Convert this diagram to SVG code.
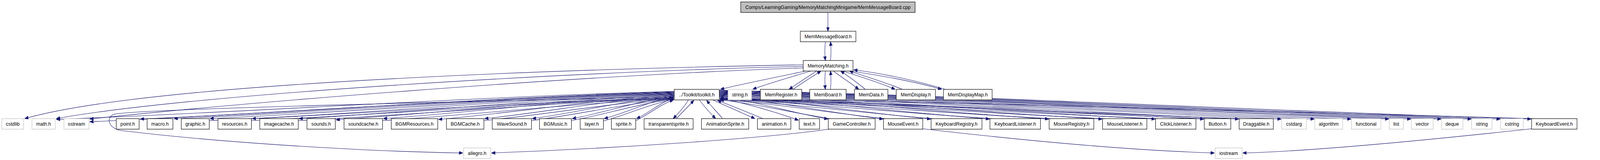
<svg xmlns="http://www.w3.org/2000/svg" width="4346" height="410" viewBox="0 0 4346 410">
<style>
.n rect{fill:#fff;stroke:#000;stroke-width:1.2}
.g rect{fill:#fff;stroke:#bfbfbf;stroke-width:1.2}
.r rect{fill:#bfbfbf;stroke:#000;stroke-width:1.2}
text{font-family:"Liberation Sans",Arial,sans-serif;font-size:13.3px;fill:#000;text-anchor:middle}
#edges path{fill:none;stroke:#191970;stroke-width:1.1;marker-end:url(#ah)}
</style>
<defs>
<marker id="ah" viewBox="0 0 10 8" refX="10" refY="4" markerWidth="11" markerHeight="8" markerUnits="userSpaceOnUse" orient="auto">
<path d="M0,0 L10,4 L0,8 z" fill="#191970" stroke="#191970"/>
</marker>
</defs>
<rect width="4346" height="410" fill="#fff"/>
<g id="diagram" transform="scale(0.93,1)">
<g id="edges">
<path d="M2279,32 L2279,80"/>
<path d="M2272,107 C2270,125 2270,140 2272,155"/>
<path d="M2286,155 C2288,140 2288,125 2286,107"/>
<path d="M2211,166 C1500,178 400,215 68,304"/>
<path d="M2211,170 C1500,186 500,245 155,304"/>
<path d="M2211,174 C1550,195 650,265 247,305"/>
<path d="M2218,182 C2100,205 2030,218 1983,229"/>
<path d="M2232,182 C2150,205 2100,218 2072,229"/>
<path d="M2248,182 C2225,196 2195,214 2172,229"/>
<path d="M2183,229 C2205,214 2237,196 2260,182"/>
<path d="M2272,182 C2270,200 2270,212 2272,229"/>
<path d="M2286,229 C2288,212 2288,200 2286,182"/>
<path d="M2294,182 C2320,200 2345,215 2364,229"/>
<path d="M2382,229 C2360,212 2335,195 2314,182"/>
<path d="M2320,182 C2380,200 2430,215 2464,229"/>
<path d="M2484,229 C2440,212 2380,195 2338,182"/>
<path d="M2340,182 C2450,197 2530,212 2592,229"/>
<path d="M2602,229 C2530,208 2430,188 2350,179"/>
<path d="M1856,234 C1295,248.4 665,288 155,306"/>
<path d="M1856,235 C1325,250.4 730,292.8 247,312"/>
<path d="M1856,236 C1371,249.8 827,287.8 386,305"/>
<path d="M1856,237 C1402,250.4 892,287.3 479,304"/>
<path d="M1856,238 C1434,251.2 961,287.5 578,304"/>
<path d="M1856,239 C1473,252 1043,287.8 694,304"/>
<path d="M1856,240 C1515,252.8 1133,288 823,304"/>
<path d="M1856,241 C1549,254.2 1204,290.5 925,307"/>
<path d="M1856,242 C1592,254.4 1295,288.5 1055,304"/>
<path d="M1856,243 C1642,255.6 1402,290.3 1207,306"/>
<path d="M1856,244 C1684,256 1491,289 1334,304"/>
<path d="M1856,245 C1727,256.8 1582,289.3 1465,304"/>
<path d="M1856,246 C1763,257.6 1659,289.5 1575,304"/>
<path d="M1856,247 C1792,258.4 1721,289.8 1663,304"/>
<path d="M1856,250 C1822,260.8 1783,290.5 1752,304"/>
<path d="M576,309 C959,294 1432,261.8 1854,250"/>
<path d="M692,309 C1041,294.5 1470,262.6 1854,251"/>
<path d="M821,309 C1131,294.8 1513,263.4 1854,252"/>
<path d="M1053,309 C1293,295 1590,264.2 1854,253"/>
<path d="M1332,309 C1489,295 1682,264.2 1854,253"/>
<path d="M1463,309 C1580,295.3 1725,265 1854,254"/>
<path d="M1573,309 C1657,295.3 1761,265 1854,254"/>
<path d="M1661,310 C1719,296.3 1790,266 1854,255"/>
<path d="M1750,309 C1781,295.8 1820,266.6 1854,256"/>
<path d="M1895,256 C1885,272 1868,290 1853,304"/>
<path d="M1862,304 C1878,288 1895,272 1910,257"/>
<path d="M1925,256 C1938,272 1955,290 1970,304"/>
<path d="M1989,304 C1975,288 1958,272 1945,257"/>
<path d="M1962,256 C2000,272 2045,290 2078,304"/>
<path d="M2100,304 C2060,288 2010,270 1975,257"/>
<path d="M1980,251 C2080,270 2150,292 2198,308"/>
<path d="M1980,248 C2079,259.4 2189,290.8 2279,305"/>
<path d="M1980,247 C2129,258.6 2296,290.5 2431,305"/>
<path d="M1980,246 C2172,257.8 2387,290.3 2562,305"/>
<path d="M1980,245 C2226,257 2501,290 2724,305"/>
<path d="M1980,244 C2279,256.2 2615,289.8 2887,305"/>
<path d="M1980,243 C2328,255.4 2718,289.5 3034,305"/>
<path d="M1980,242 C2376,254.6 2820,289.3 3180,305"/>
<path d="M1980,241 C2420,253.8 2914,289 3314,305"/>
<path d="M1980,240 C2452,253 2981,288.8 3410,305"/>
<path d="M1980,239 C2491,252.2 3063,288.5 3527,305"/>
<path d="M1980,238 C2521,251.4 3127,288.3 3618,305"/>
<path d="M1980,237 C2554,250.6 3197,288 3719,305"/>
<path d="M1980,236 C2588,249.8 3270,287.8 3823,305"/>
<path d="M1980,235 C2608,249 3313,287.5 3884,305"/>
<path d="M1980,234 C2636,248.2 3371,287.3 3967,305"/>
<path d="M1980,233 C2663,247.4 3429,287 4050,305"/>
<path d="M1980,232 C2690,246.6 3485,286.8 4130,305"/>
<path d="M1980,231 C2718,245.8 3545,286.5 4215,305"/>
<path d="M2286,304 C2194.5,292 2081.6,265.6 1982,256"/>
<path d="M2438,304 C2301,291.8 2132,264.8 1982,255"/>
<path d="M2569,304 C2393,291.8 2175,264.8 1982,255"/>
<path d="M2731,304 C2506,291.5 2228.5,264 1982,254"/>
<path d="M2894,304 C2620,291.5 2282,264 1982,254"/>
<path d="M3041,304 C2723,291.3 2331,263.2 1982,253"/>
<path d="M3187,304 C2825,291.3 2379,263.2 1982,253"/>
<path d="M3321,304 C2919,291 2423,262.4 1982,252"/>
<path d="M3417,304 C2986,291 2455,262.4 1982,252"/>
<path d="M4222,304 C3550,290.8 2721,261.6 1982,251"/>
<path d="M1856,248 C1300,260 420,278 318,292 C292,296 294,326 330,334 C600,365 1000,388 1274,392"/>
<path d="M2282,331 C2100,355 1700,380 1353,392"/>
<path d="M2540,330 C2800,358 3100,385 3343,392"/>
<path d="M4216,330 C3900,362 3600,388 3421,392"/>
</g>
<g id="n_cpp" class="r"><rect x="2039" y="5" width="480" height="27"/><text x="2279" y="23.5">Comps/LearningGaming/MemoryMatchingMinigame/MemMessageBoard.cpp</text></g>
<g id="n_MemMessageBoard" class="n"><rect x="2203" y="80" width="153" height="27"/><text x="2279.5" y="98.5">MemMessageBoard.h</text></g>
<g id="n_MemoryMatching" class="n"><rect x="2211" y="155" width="137" height="27"/><text x="2279.5" y="173.5">MemoryMatching.h</text></g>
<g id="n_toolkit" class="n"><rect x="1856" y="229" width="124" height="27"/><text x="1918" y="247.5">../Toolkit/toolkit.h</text></g>
<g id="n_string_h" class="g"><rect x="2004" y="229" width="65" height="27"/><text x="2036.5" y="247.5">string.h</text></g>
<g id="n_MemRegister" class="n"><rect x="2093" y="229" width="114" height="27"/><text x="2150" y="247.5">MemRegister.h</text></g>
<g id="n_MemBoard" class="n"><rect x="2229" y="229" width="100" height="27"/><text x="2279" y="247.5">MemBoard.h</text></g>
<g id="n_MemData" class="n"><rect x="2352" y="229" width="92" height="27"/><text x="2398" y="247.5">MemData.h</text></g>
<g id="n_MemDisplay" class="n"><rect x="2467" y="229" width="108" height="27"/><text x="2521" y="247.5">MemDisplay.h</text></g>
<g id="n_MemDisplayMap" class="n"><rect x="2597" y="229" width="134" height="27"/><text x="2664" y="247.5">MemDisplayMap.h</text></g>
<g id="n_cstdlib" class="g"><rect x="5" y="304" width="60" height="27"/><text x="35" y="322.5">cstdlib</text></g>
<g id="n_math" class="g"><rect x="88" y="304" width="64" height="27"/><text x="120" y="322.5">math.h</text></g>
<g id="n_sstream" class="g"><rect x="176" y="304" width="69" height="27"/><text x="210.5" y="322.5">sstream</text></g>
<g id="n_point" class="n"><rect x="320" y="304" width="63" height="27"/><text x="351.5" y="322.5">point.h</text></g>
<g id="n_macro" class="n"><rect x="405" y="304" width="71" height="27"/><text x="440.5" y="322.5">macro.h</text></g>
<g id="n_graphic" class="n"><rect x="499" y="304" width="77" height="27"/><text x="537.5" y="322.5">graphic.h</text></g>
<g id="n_resources" class="n"><rect x="600" y="304" width="92" height="27"/><text x="646" y="322.5">resources.h</text></g>
<g id="n_imagecache" class="n"><rect x="715" y="304" width="106" height="27"/><text x="768" y="322.5">imagecache.h</text></g>
<g id="n_sounds" class="n"><rect x="845" y="304" width="78" height="27"/><text x="884" y="322.5">sounds.h</text></g>
<g id="n_soundcache" class="n"><rect x="947" y="304" width="106" height="27"/><text x="1000" y="322.5">soundcache.h</text></g>
<g id="n_BGMResources" class="n"><rect x="1077" y="304" width="128" height="27"/><text x="1141" y="322.5">BGMResources.h</text></g>
<g id="n_BGMCache" class="n"><rect x="1229" y="304" width="103" height="27"/><text x="1280.5" y="322.5">BGMCache.h</text></g>
<g id="n_WaveSound" class="n"><rect x="1355" y="304" width="108" height="27"/><text x="1409" y="322.5">WaveSound.h</text></g>
<g id="n_BGMusic" class="n"><rect x="1485" y="304" width="88" height="27"/><text x="1529" y="322.5">BGMusic.h</text></g>
<g id="n_layer" class="n"><rect x="1597" y="304" width="64" height="27"/><text x="1629" y="322.5">layer.h</text></g>
<g id="n_sprite" class="n"><rect x="1683" y="304" width="67" height="27"/><text x="1716.5" y="322.5">sprite.h</text></g>
<g id="n_transparentsprite" class="n"><rect x="1773" y="304" width="135" height="27"/><text x="1840.5" y="322.5">transparentsprite.h</text></g>
<g id="n_AnimationSprite" class="n"><rect x="1931" y="304" width="130" height="27"/><text x="1996" y="322.5">AnimationSprite.h</text></g>
<g id="n_animation" class="n"><rect x="2085" y="304" width="92" height="27"/><text x="2131" y="322.5">animation.h</text></g>
<g id="n_text" class="n"><rect x="2200" y="304" width="56" height="27"/><text x="2228" y="322.5">text.h</text></g>
<g id="n_GameController" class="n"><rect x="2280" y="304" width="129" height="27"/><text x="2344.5" y="322.5">GameController.h</text></g>
<g id="n_MouseEvent" class="n"><rect x="2432" y="304" width="108" height="27"/><text x="2486" y="322.5">MouseEvent.h</text></g>
<g id="n_KeyboardRegistry" class="n"><rect x="2563" y="304" width="140" height="27"/><text x="2633" y="322.5">KeyboardRegistry.h</text></g>
<g id="n_KeyboardListener" class="n"><rect x="2725" y="304" width="139" height="27"/><text x="2794.5" y="322.5">KeyboardListener.h</text></g>
<g id="n_MouseRegistry" class="n"><rect x="2888" y="304" width="123" height="27"/><text x="2949.5" y="322.5">MouseRegistry.h</text></g>
<g id="n_MouseListener" class="n"><rect x="3035" y="304" width="122" height="27"/><text x="3096" y="322.5">MouseListener.h</text></g>
<g id="n_ClickListener" class="n"><rect x="3181" y="304" width="111" height="27"/><text x="3236.5" y="322.5">ClickListener.h</text></g>
<g id="n_Button" class="n"><rect x="3315" y="304" width="73" height="27"/><text x="3351.5" y="322.5">Button.h</text></g>
<g id="n_Draggable" class="n"><rect x="3411" y="304" width="94" height="27"/><text x="3458" y="322.5">Draggable.h</text></g>
<g id="n_cstdarg" class="g"><rect x="3528" y="304" width="68" height="27"/><text x="3562" y="322.5">cstdarg</text></g>
<g id="n_algorithm" class="g"><rect x="3619" y="304" width="77" height="27"/><text x="3657.5" y="322.5">algorithm</text></g>
<g id="n_functional" class="g"><rect x="3720" y="304" width="81" height="27"/><text x="3760.5" y="322.5">functional</text></g>
<g id="n_list" class="g"><rect x="3824" y="304" width="39" height="27"/><text x="3843.5" y="322.5">list</text></g>
<g id="n_vector" class="g"><rect x="3885" y="304" width="60" height="27"/><text x="3915" y="322.5">vector</text></g>
<g id="n_deque" class="g"><rect x="3968" y="304" width="59" height="27"/><text x="3997.5" y="322.5">deque</text></g>
<g id="n_string" class="g"><rect x="4051" y="304" width="56" height="27"/><text x="4079" y="322.5">string</text></g>
<g id="n_cstring" class="g"><rect x="4131" y="304" width="62" height="27"/><text x="4162" y="322.5">cstring</text></g>
<g id="n_KeyboardEvent" class="n"><rect x="4216" y="304" width="125" height="27"/><text x="4278.5" y="322.5">KeyboardEvent.h</text></g>
<g id="n_allegro" class="g"><rect x="1276" y="379" width="75" height="27"/><text x="1313.5" y="397.5">allegro.h</text></g>
<g id="n_iostream" class="g"><rect x="3345" y="379" width="74" height="27"/><text x="3382" y="397.5">iostream</text></g>
</g>
</svg>
